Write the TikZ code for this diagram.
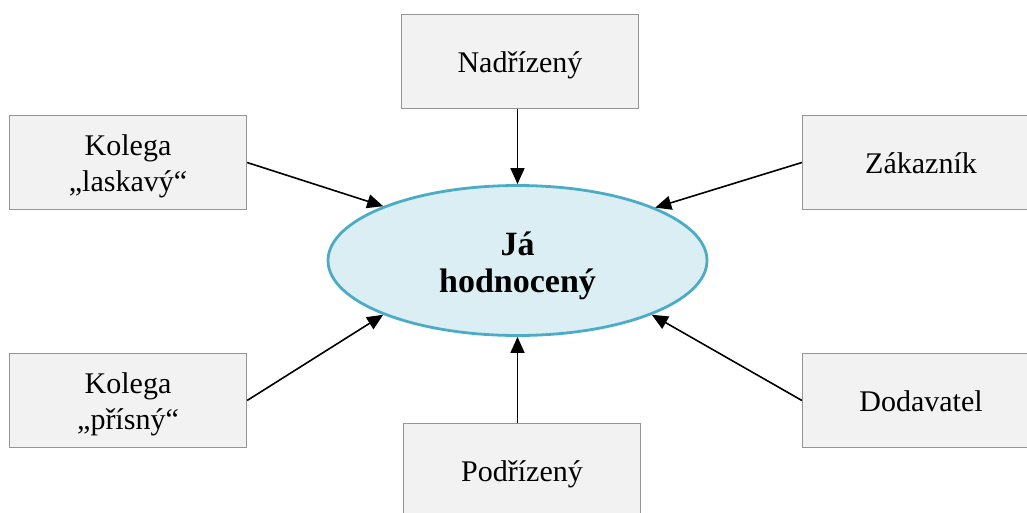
\documentclass[tikz,border=0pt]{standalone}
\usepackage{fontspec}
\setmainfont{Liberation Serif}
\usetikzlibrary{arrows.meta,shapes.geometric}
\definecolor{boxfill}{HTML}{F2F2F2}
\definecolor{boxline}{HTML}{959595}
\definecolor{ellfill}{HTML}{DBEEF4}
\definecolor{elline}{HTML}{4BACC6}
\tikzset{
  rolebox/.style={draw=boxline, fill=boxfill, line width=1.2pt, minimum width=237pt, minimum height=94pt,
    inner sep=0pt, align=center, text height=28pt, text depth=6pt,
    font=\fontsize{30}{36}\selectfont},
  twoline/.style={text height=63pt},
  centre/.style={ellipse, draw=elline, fill=ellfill, line width=2.8pt, minimum width=379pt, minimum height=150pt,
    inner sep=0pt, align=center, text height=69pt, text depth=6pt,
    font=\fontsize{34}{37}\selectfont\bfseries},
  arr/.style={draw=black, line width=1.6pt, -{Triangle[length=16pt,width=14pt]}}
}
\begin{document}
\begin{tikzpicture}[x=1pt,y=-1pt]
\useasboundingbox (0,0) rectangle (1027,512);
\node[centre] (ell) at (517.5,260.5) {Já\\hodnocený};
\node[rolebox] (nad) at (520,61.5) {Nadřízený};
\node[rolebox,twoline] (klas) at (128,162.5) {Kolega\\„laskavý“};
\node[rolebox] (zak) at (921,162.5) {Zákazník};
\node[rolebox,twoline] (kpri) at (128,400.5) {Kolega\\„přísný“};
\node[rolebox] (dod) at (921,400.5) {Dodavatel};
\node[rolebox] (pod) at (522,470.5) {Podřízený};
\draw[arr] (nad.south -| ell.north) -- (ell.north);
\draw[arr] (pod.north -| ell.south) -- (ell.south);
\draw[arr] (klas.east) -- (ell.158.6);
\draw[arr] (zak.west) -- (ell.21.7);
\draw[arr] (kpri.east) -- (ell.202.3);
\draw[arr] (dod.west) -- (ell.338.1);
\end{tikzpicture}
\end{document}
